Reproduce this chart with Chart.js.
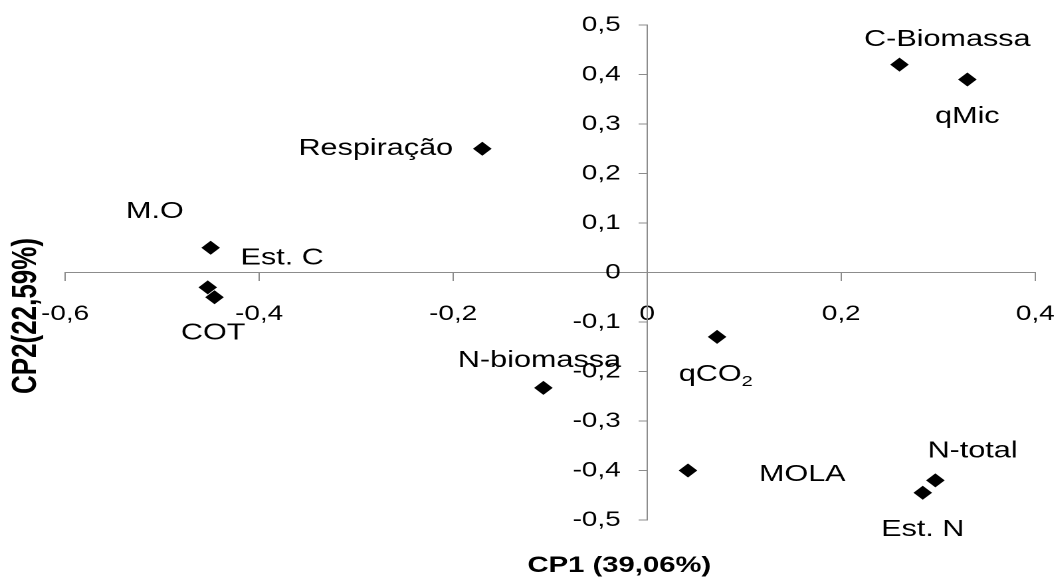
<!DOCTYPE html>
<html>
<head>
<meta charset="utf-8">
<script src="https://cdn.jsdelivr.net/npm/chart.js@4/dist/chart.umd.min.js"></script>
<style>
  html, body { margin: 0; padding: 0; background: #fff; overflow: hidden; }
  /* the original picture is stretched sideways, so is this one */
  #wrap { width: 796px; height: 578px; transform: scaleX(1.329); transform-origin: 0 0; }
</style>
</head>
<body>
<div id="wrap"><canvas id="pca"></canvas></div>
<script>
const names = ["C-Biomassa", "qMic", "Respiração", "M.O", "Est. C", "COT",
               "N-biomassa", "qCO2", "MOLA", "N-total", "Est. N"];
const cp1 = [0.26, 0.33, -0.17, -0.45, -0.453, -0.446, -0.107, 0.072, 0.042, 0.297, 0.284];
const cp2 = [0.42, 0.39, 0.25, 0.05, -0.03, -0.05, -0.233, -0.13, -0.40, -0.42, -0.445];

const xTickValues = [-0.6, -0.4, -0.2, 0, 0.2, 0.4];
const xTickLabels = ["-0,6", "-0,4", "-0,2", "0", "0,2", "0,4"];
const yTickValues = [-0.5, -0.4, -0.3, -0.2, -0.1, 0, 0.1, 0.2, 0.3, 0.4, 0.5];
const yTickLabels = ["-0,5", "-0,4", "-0,3", "-0,2", "-0,1", "0", "0,1", "0,2", "0,3", "0,4", "0,5"];

const FONT = "'Liberation Sans', Arial, sans-serif";
const AXIS_GREY = "#8c8c8c";
const LABEL_SIZE = 23;

// where each label sits relative to its marker (logical px)
const labelPlacement = {
    "C-Biomassa": [36, -25, "center"],
    "qMic": [0, 37, "center"],
    "Respiração": [-22, 0, "right"],
    "M.O": [-42, -36, "center"],
    "Est. C": [56, -29, "center"],
    "COT": [-1, 36, "center"],
    "N-biomassa": [-3, -27, "center"],
    "qCO2": [-1, 38, "center"],
    "MOLA": [86, 4, "center"],
    "N-total": [28, -29, "center"],
    "Est. N": [0, 37, "center"],
};

// a y axis placed at x = 0 ignores ticks.padding, so push its labels left by hand
const yLabelGap = 20;

const labelsPlugin = {
    id: "pcaLabels",
    beforeDraw(chart) {
        const y = chart.scales.y;
        y.getLabelItems(chart.chartArea).forEach((item) => {
            if (!item._moved) {
                item.options.translation[0] -= yLabelGap;
                item._moved = true;
            }
        });
    },
    afterDatasetsDraw(chart) {
        const ctx = chart.ctx;
        const meta = chart.getDatasetMeta(0);
        ctx.save();
        ctx.fillStyle = "#000";
        ctx.textBaseline = "middle";
        meta.data.forEach((pt, i) => {
            const name = names[i];
            const [dx, dy, align] = labelPlacement[name];
            const x = pt.x + dx;
            const y = pt.y + dy;
            if (name === "qCO2") {
                ctx.font = LABEL_SIZE + "px " + FONT;
                const w1 = ctx.measureText("qCO").width;
                ctx.font = "15px " + FONT;
                const w2 = ctx.measureText("2").width;
                const start = x - (w1 + w2) / 2;
                ctx.textAlign = "left";
                ctx.font = LABEL_SIZE + "px " + FONT;
                ctx.fillText("qCO", start, y);
                ctx.font = "15px " + FONT;
                ctx.fillText("2", start + w1, y + 7);
                return;
            }
            ctx.font = LABEL_SIZE + "px " + FONT;
            ctx.textAlign = align;
            ctx.fillText(name, x, y);
        });

        // axis titles
        ctx.font = "bold 22px " + FONT;
        ctx.textAlign = "center";
        ctx.fillText("CP1 (39,06%)", 466, 566);
        ctx.translate(20, 316);
        ctx.rotate(-Math.PI / 2);
        ctx.font = "bold 26px " + FONT;
        ctx.fillText("CP2(22,59%)", 0, 0);
        ctx.restore();
    },
};

function flatten(scale) {
    scale.paddingLeft = scale.paddingRight = scale.paddingTop = scale.paddingBottom = 0;
}

new Chart(document.getElementById("pca"), {
    type: "scatter",
    data: {
        datasets: [{
            data: cp1.map((v, i) => ({ x: v, y: cp2[i] })),
            pointStyle: "rectRot",
            pointRadius: 7,
            pointHoverRadius: 7,
            backgroundColor: "#000",
            borderColor: "#000",
            borderWidth: 0,
        }],
    },
    options: {
        responsive: true,
        maintainAspectRatio: false,
        animation: false,
        devicePixelRatio: 2,
        layout: { padding: { left: 49, right: 17, top: 25, bottom: 58 } },
        plugins: {
            legend: { display: false },
            tooltip: { enabled: false },
        },
        scales: {
            x: {
                type: "linear",
                position: { y: 0 },
                min: -0.6,
                max: 0.4,
                afterBuildTicks: (s) => { s.ticks = xTickValues.map((v) => ({ value: v })); },
                afterFit: (s) => { s.height = 0; flatten(s); },
                border: { color: AXIS_GREY, width: 1 },
                grid: { drawOnChartArea: false, drawTicks: true, tickLength: 8, tickColor: AXIS_GREY },
                ticks: {
                    color: "#000",
                    padding: 21,
                    maxRotation: 0,
                    autoSkip: false,
                    font: { family: FONT, size: 21 },
                    callback: (v, i) => xTickLabels[i],
                },
            },
            y: {
                type: "linear",
                position: { x: 0 },
                min: -0.5,
                max: 0.5,
                afterBuildTicks: (s) => { s.ticks = yTickValues.map((v) => ({ value: v })); },
                afterFit: (s) => { s.width = 0; flatten(s); },
                border: { color: AXIS_GREY, width: 1 },
                grid: { drawOnChartArea: false, drawTicks: true, tickLength: 6, tickColor: AXIS_GREY },
                ticks: {
                    color: "#000",
                    autoSkip: false,
                    font: { family: FONT, size: 21 },
                    callback: (v, i) => yTickLabels[i],
                },
            },
        },
    },
    plugins: [labelsPlugin],
});
</script>
</body>
</html>
